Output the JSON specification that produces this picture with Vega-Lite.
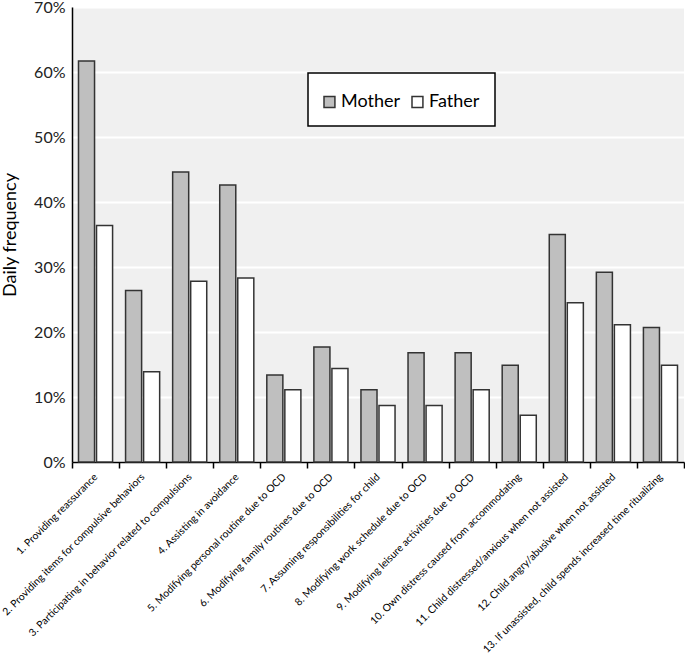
{
  "$schema": "https://vega.github.io/schema/vega-lite/v6.json",
  "autosize": "none",
  "width": 612,
  "height": 455,
  "padding": {"left": 72, "top": 7, "right": 1, "bottom": 193},
  "background": "white",
  "config": {
    "font": "Lato",
    "view": {"fill": "#F0F0F0", "stroke": null}
  },
  "data": {
    "values": [
      {"item": "1. Providing reassurance", "parent": "Mother", "value": 0.617},
      {"item": "1. Providing reassurance", "parent": "Father", "value": 0.364},
      {"item": "2. Providing items for compulsive behaviors", "parent": "Mother", "value": 0.264},
      {"item": "2. Providing items for compulsive behaviors", "parent": "Father", "value": 0.139},
      {"item": "3. Participating in behavior related to compulsions", "parent": "Mother", "value": 0.446},
      {"item": "3. Participating in behavior related to compulsions", "parent": "Father", "value": 0.278},
      {"item": "4. Assisting in avoidance", "parent": "Mother", "value": 0.426},
      {"item": "4. Assisting in avoidance", "parent": "Father", "value": 0.283},
      {"item": "5. Modifying personal routine due to OCD", "parent": "Mother", "value": 0.134},
      {"item": "5. Modifying personal routine due to OCD", "parent": "Father", "value": 0.111},
      {"item": "6. Modifying family routines due to OCD", "parent": "Mother", "value": 0.177},
      {"item": "6. Modifying family routines due to OCD", "parent": "Father", "value": 0.144},
      {"item": "7. Assuming responsibilities for child", "parent": "Mother", "value": 0.111},
      {"item": "7. Assuming responsibilities for child", "parent": "Father", "value": 0.087},
      {"item": "8. Modifying work schedule due to OCD", "parent": "Mother", "value": 0.168},
      {"item": "8. Modifying work schedule due to OCD", "parent": "Father", "value": 0.087},
      {"item": "9. Modifying leisure activities due to OCD", "parent": "Mother", "value": 0.168},
      {"item": "9. Modifying leisure activities due to OCD", "parent": "Father", "value": 0.111},
      {"item": "10. Own distress caused from accommodating", "parent": "Mother", "value": 0.149},
      {"item": "10. Own distress caused from accommodating", "parent": "Father", "value": 0.072},
      {"item": "11. Child distressed/anxious when not assisted", "parent": "Mother", "value": 0.350},
      {"item": "11. Child distressed/anxious when not assisted", "parent": "Father", "value": 0.245},
      {"item": "12. Child angry/abusive when not assisted", "parent": "Mother", "value": 0.292},
      {"item": "12. Child angry/abusive when not assisted", "parent": "Father", "value": 0.211},
      {"item": "13. If unassisted, child spends increased time ritualizing", "parent": "Mother", "value": 0.207},
      {"item": "13. If unassisted, child spends increased time ritualizing", "parent": "Father", "value": 0.149}
    ]
  },
  "mark": {"type": "bar", "stroke": "#333333", "strokeWidth": 1.5},
  "encoding": {
    "x": {
      "field": "item",
      "type": "nominal",
      "sort": null,
      "scale": {"paddingInner": 0, "paddingOuter": 0},
      "axis": {
        "title": null,
        "labelAngle": -45,
        "labelAlign": "right",
        "labelBaseline": "middle",
        "labelFontSize": 10.3,
        "labelColor": "black",
        "labelLimit": 400,
        "labelPadding": 7,
        "domainColor": "black",
        "domainWidth": 1.5,
        "tickColor": "black",
        "tickWidth": 1.5,
        "tickSize": 6,
        "tickBand": "extent"
      }
    },
    "xOffset": {
      "field": "parent",
      "type": "nominal",
      "sort": ["Mother", "Father"],
      "scale": {"paddingInner": 0.11, "paddingOuter": 0.36}
    },
    "y": {
      "field": "value",
      "type": "quantitative",
      "scale": {"domain": [0, 0.7], "nice": false},
      "axis": {
        "title": "Daily frequency",
        "titleFontSize": 18,
        "titleFontWeight": "normal",
        "titleColor": "black",
        "titlePadding": 14,
        "format": ".0%",
        "values": [0, 0.1, 0.2, 0.3, 0.4, 0.5, 0.6, 0.7],
        "labelFontSize": 16,
        "labelColor": "#222222",
        "labelPadding": 7,
        "ticks": false,
        "domainColor": "black",
        "domainWidth": 1.5,
        "gridColor": "white",
        "gridWidth": 2
      }
    },
    "fill": {
      "field": "parent",
      "type": "nominal",
      "sort": ["Mother", "Father"],
      "scale": {"domain": ["Mother", "Father"], "range": ["#BFBFBF", "#FFFFFF"]},
      "legend": {
        "title": null,
        "orient": "none",
        "legendX": 236,
        "legendY": 66,
        "direction": "horizontal",
        "fillColor": "white",
        "strokeColor": "black",
        "padding": 15,
        "symbolType": "M-1,-0.42H-0.16V0.42H-1Z",
        "symbolSize": 676,
        "symbolStrokeColor": "#333333",
        "symbolStrokeWidth": 1.5,
        "labelFontSize": 18,
        "labelColor": "black",
        "labelOffset": -10,
        "columnPadding": 8,
        "encode": {"legend": {"update": {"strokeWidth": {"value": 1.5}}}}
      }
    }
  }
}
